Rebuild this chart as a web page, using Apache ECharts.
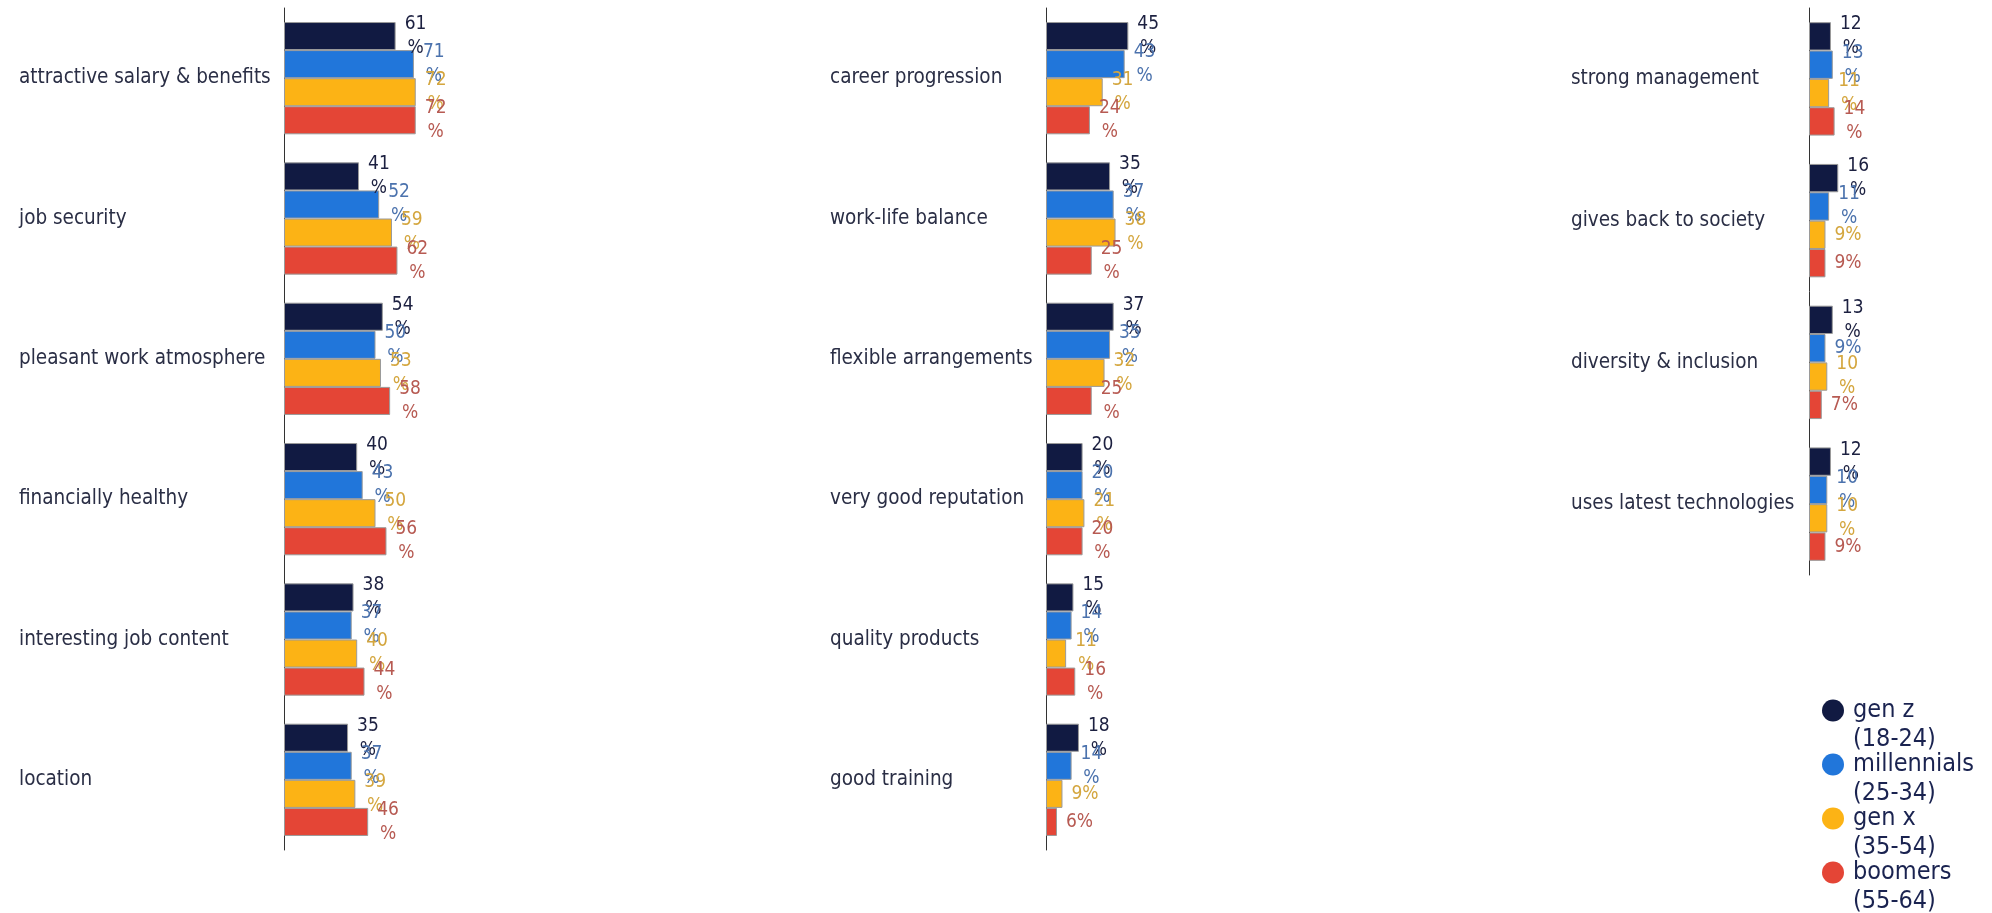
<!DOCTYPE html>
<html><head><meta charset="utf-8">
<script src="https://cdn.jsdelivr.net/npm/echarts@6/dist/echarts.min.js"></script>
<style>html,body{margin:0;padding:0;background:#fff}#c{width:1992px;height:913px}</style>
</head><body><div id="c"></div>
<script>
const seriesNames = ['gen z (18-24)', 'millennials (25-34)', 'gen x (35-54)', 'boomers (55-64)'];

const cats1 = ['attractive salary & benefits', 'job security', 'pleasant work atmosphere', 'financially healthy', 'interesting job content', 'location'];
const genZ1 = [61, 41, 54, 40, 38, 35];
const mill1 = [71, 52, 50, 43, 37, 37];
const genX1 = [72, 59, 53, 50, 40, 39];
const boom1 = [72, 62, 58, 56, 44, 46];

const cats2 = ['career progression', 'work-life balance', 'flexible arrangements', 'very good reputation', 'quality products', 'good training'];
const genZ2 = [45, 35, 37, 20, 15, 18];
const mill2 = [43, 37, 35, 20, 14, 14];
const genX2 = [31, 38, 32, 21, 11, 9];
const boom2 = [24, 25, 25, 20, 16, 6];

const cats3 = ['strong management', 'gives back to society', 'diversity & inclusion', 'uses latest technologies'];
const genZ3 = [12, 16, 13, 12];
const mill3 = [13, 11, 9, 10];
const genX3 = [11, 9, 10, 10];
const boom3 = [14, 9, 7, 9];

const FONT = "'DejaVu Sans Condensed', 'DejaVu Sans', sans-serif";
const barColors = ['#111a42', '#2176da', '#fcb315', '#e44536'];
const labelColors = ['#1c2040', '#4b72ad', '#d4a63e', '#b75a52'];

const panels = [
  {cats: cats1, data: [genZ1, mill1, genX1, boom1], left: 284, height: 842, margin: 265},
  {cats: cats2, data: [genZ2, mill2, genX2, boom2], left: 1046, height: 842, margin: 216},
  {cats: cats3, data: [genZ3, mill3, genX3, boom3], left: 1809, height: 567, margin: 238}
];

const grid = [], xAxis = [], yAxis = [], series = [];
panels.forEach((p, i) => {
  grid.push({left: p.left, top: 8, width: 183, height: p.height});
  xAxis.push({type: 'value', gridIndex: i, min: 0, max: 100, show: false});
  yAxis.push({
    type: 'category', gridIndex: i, data: p.cats, inverse: true,
    axisLine: {show: true, lineStyle: {color: '#333', width: 1}},
    axisTick: {show: false},
    splitLine: {show: false},
    axisLabel: {align: 'left', margin: p.margin, color: '#2a2e45', fontSize: 20.5, fontFamily: FONT}
  });
  p.data.forEach((arr, s) => {
    series.push({
      type: 'bar', name: seriesNames[s], xAxisIndex: i, yAxisIndex: i,
      data: arr, barCategoryGap: '20%', barGap: '0%',
      itemStyle: {color: barColors[s], borderColor: '#9a9a9a', borderWidth: 1},
      label: {
        show: true, position: 'right', distance: 9,
        color: labelColors[s], fontSize: 19, fontFamily: FONT, lineHeight: 24,
        formatter: (q) => q.value >= 10 ? '{c|' + q.value + '}\n{c|%}' : q.value + '%',
        rich: {c: {align: 'center', color: labelColors[s], fontSize: 19, fontFamily: FONT, lineHeight: 24}}
      },
      emphasis: {disabled: true}
    });
  });
});

const chart = echarts.init(document.getElementById('c'), null, {renderer: 'canvas'});
chart.setOption({
  animation: false,
  backgroundColor: '#fff',
  color: barColors,
  grid, xAxis, yAxis, series,
  legend: {
    data: seriesNames.map((n, s) => ({name: n, icon: 'circle', itemStyle: {color: barColors[s], borderWidth: 0}})),
    orient: 'vertical', left: 1822, top: 698, height: 400, padding: 0,
    itemWidth: 30, itemHeight: 22, itemGap: 0,
    formatter: (name) => {
      const k = name.indexOf(' (');
      return '{n|' + name.slice(0, k) + '}\n{n|' + name.slice(k + 1) + '}';
    },
    textStyle: {
      height: 29, fontSize: 25, fontFamily: FONT, color: '#1a2350',
      rich: {n: {fontSize: 25, lineHeight: 29, fontFamily: FONT, color: '#1a2350'}}
    }
  }
});
</script></body></html>
